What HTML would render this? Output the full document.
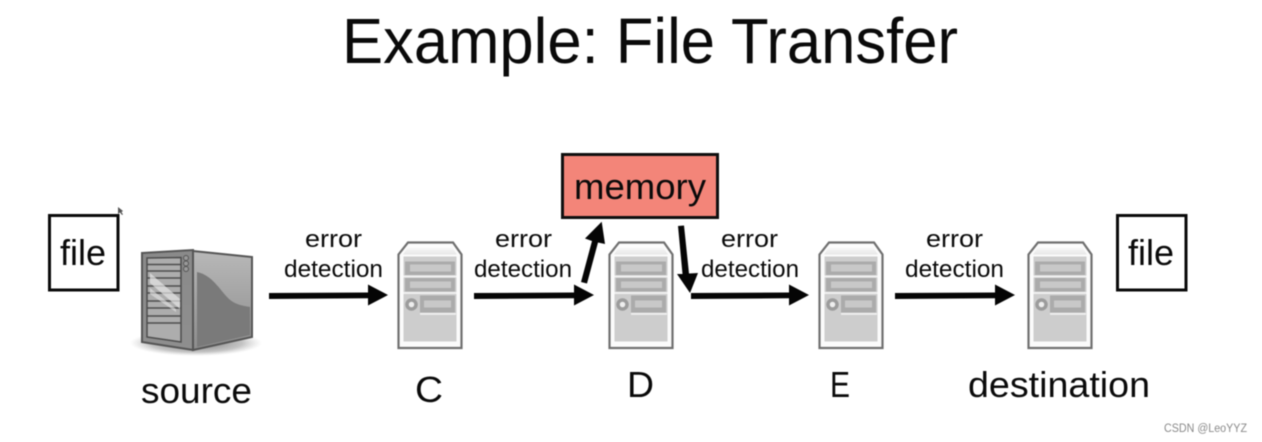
<!DOCTYPE html>
<html lang="en">
<head>
<meta charset="utf-8">
<title>Example: File Transfer</title>
<style>
html,body{margin:0;padding:0;background:#fff;overflow:hidden;}
svg{display:block;filter:blur(.4px);}
text{font-family:"Liberation Sans",sans-serif;fill:#0a0a0a;}
</style>
</head>
<body>
<svg width="1262" height="442" viewBox="0 0 1262 442" xmlns="http://www.w3.org/2000/svg">
<defs>
  <linearGradient id="side" x1="0" y1="0" x2="0" y2="1">
    <stop offset="0" stop-color="#b8b8b8"/><stop offset="1" stop-color="#8d8d8d"/>
  </linearGradient>
  <linearGradient id="front" x1="0" y1="0" x2="0" y2="1">
    <stop offset="0" stop-color="#8a8a8a"/><stop offset="1" stop-color="#8f8f8f"/>
  </linearGradient>
  <linearGradient id="top" x1="0" y1="0" x2="0" y2="1">
    <stop offset="0" stop-color="#fff"/><stop offset="1" stop-color="#e6e6e6"/>
  </linearGradient>
  <radialGradient id="shadow">
    <stop offset="0" stop-color="#555" stop-opacity=".85"/><stop offset=".7" stop-color="#888" stop-opacity=".5"/><stop offset="1" stop-color="#aaa" stop-opacity="0"/>
  </radialGradient>
  <g id="srv">
    <path d="M11 1H56L64.500 13V106.500H1.500V13Z" fill="#fbfbfb" stroke="#707070" stroke-width="2.200"/>
    <path d="M12 4H54L60 13H6Z" fill="url(#top)"/>
    <rect x="6.500" y="15" width="53" height="85" fill="#cdcdcd"/>
    <rect x="8" y="20" width="50" height="13.500" fill="#ababab"/>
    <rect x="13" y="23" width="41" height="7" fill="#c8c8c8"/>
    <rect x="6.500" y="34" width="53" height="2" fill="#f0f0f0"/>
    <rect x="8" y="36.500" width="50" height="13.500" fill="#ababab"/>
    <rect x="13" y="40" width="41" height="6.500" fill="#c8c8c8"/>
    <rect x="6.500" y="50.500" width="53" height="2" fill="#f0f0f0"/>
    <rect x="23" y="54" width="35" height="17" fill="#ababab"/>
    <rect x="27" y="59" width="27" height="7" fill="#c8c8c8"/>
    <rect x="23" y="71.500" width="36" height="1.800" fill="#f0f0f0"/>
    <circle cx="14.500" cy="63" r="4.500" fill="#eee" stroke="#9c9c9c" stroke-width="3.500"/>
  </g>
</defs>

<rect width="1262" height="442" fill="#fff"/>

<text x="342" y="63" font-size="64" textLength="616" lengthAdjust="spacingAndGlyphs">Example: File Transfer</text>

<!-- cursor -->
<path d="M118 207L118 214L120 212.500L122 215L123 214.500L121.500 212L123 211Z" fill="#555"/>

<!-- file boxes -->
<rect x="49.500" y="215.500" width="68.500" height="74.500" fill="#fff" stroke="#0a0a0a" stroke-width="3"/>
<text x="60" y="265" font-size="36" textLength="46" lengthAdjust="spacingAndGlyphs">file</text>
<rect x="1117.500" y="215.500" width="68.500" height="74.500" fill="#fff" stroke="#0a0a0a" stroke-width="3"/>
<text x="1128" y="265" font-size="36" textLength="46" lengthAdjust="spacingAndGlyphs">file</text>

<!-- source server -->
<ellipse cx="196" cy="343" rx="66" ry="13" fill="url(#shadow)"/>
<path d="M193 251L252 257V337L193 350Z" fill="url(#side)" stroke="#555" stroke-width="2"/>
<path d="M197 272C212 275 220 290 228 298C235 305 244 306 250 307V335L197 347Z" fill="#7a7a7a"/>
<path d="M142 253L193 250V350L142 342Z" fill="url(#front)" stroke="#555" stroke-width="2"/>
<path d="M147 258L181 257.500V342L147 337Z" fill="#adadad" stroke="#4d4d4d" stroke-width="1.500"/>
<g stroke="#4d4d4d" stroke-width="1.500" fill="none">
  <path d="M147 264.500H181M147 271H181M147 278H181M147 286H181M147 293H181M147 301H181M147 308H181M147 316H181M147 323H181"/>
</g>
<path d="M150 273L180 299V309L150 283Z" fill="#e6e6e6" opacity=".7"/>
<path d="M150 288L176 309V312L150 294Z" fill="#e6e6e6" opacity=".6"/>
<circle cx="186" cy="258" r="2.500" fill="#999" stroke="#555"/>
<circle cx="186" cy="263.500" r="2.500" fill="#999" stroke="#555"/>
<circle cx="186" cy="269" r="2.500" fill="#999" stroke="#555"/>

<!-- small servers -->
<use href="#srv" x="397" y="241.500"/>
<use href="#srv" x="608" y="241.500"/>
<use href="#srv" x="818" y="241.500"/>
<use href="#srv" x="1027" y="241.500"/>

<!-- memory -->
<rect x="562.500" y="154.500" width="155" height="63" fill="#f38579" stroke="#0f0f0f" stroke-width="3"/>
<text x="574" y="199" font-size="36" textLength="132" lengthAdjust="spacingAndGlyphs">memory</text>

<!-- arrows -->
<g fill="#050505">
  <path d="M269 293L368 292.500V284.500L388 295L368 305.500V298.300L269 299Z"/>
  <path d="M474 293L574 292.500V284.500L594 295L574 305.500V298.300L474 299Z"/>
  <path d="M691 293L789 292.500V284.500L809 295L789 305.500V298.300L691 299Z"/>
  <path d="M895 293L995 292.500V284.500L1015 295L995 305.500V298.300L895 299Z"/>
  <path d="M581 282L592 241L585 238.500L601.700 221.700L605 244L598 242.500L587 283.500Z"/>
  <path d="M678 226L684 225.500L689 273.500L698 273L690 293L677 274L682.500 274Z"/>
</g>

<!-- error detection labels -->
<g font-size="24">
  <text x="305" y="247" textLength="57" lengthAdjust="spacingAndGlyphs">error</text>
  <text x="284" y="277" textLength="99" lengthAdjust="spacingAndGlyphs">detection</text>
  <text x="495" y="247" textLength="57" lengthAdjust="spacingAndGlyphs">error</text>
  <text x="474" y="277" textLength="98" lengthAdjust="spacingAndGlyphs">detection</text>
  <text x="721" y="247" textLength="57" lengthAdjust="spacingAndGlyphs">error</text>
  <text x="701" y="277" textLength="98" lengthAdjust="spacingAndGlyphs">detection</text>
  <text x="926" y="247" textLength="57" lengthAdjust="spacingAndGlyphs">error</text>
  <text x="905" y="277" textLength="99" lengthAdjust="spacingAndGlyphs">detection</text>
</g>

<!-- node labels -->
<g font-size="36">
  <text x="141" y="403" textLength="111" lengthAdjust="spacingAndGlyphs">source</text>
  <text x="415" y="402" textLength="28" lengthAdjust="spacingAndGlyphs">C</text>
  <text x="627" y="397" textLength="27" lengthAdjust="spacingAndGlyphs">D</text>
  <text x="830" y="397" textLength="20" lengthAdjust="spacingAndGlyphs">E</text>
  <text x="968" y="397" textLength="182" lengthAdjust="spacingAndGlyphs">destination</text>
</g>

<text x="1164" y="432" font-size="11.500" textLength="83" lengthAdjust="spacingAndGlyphs" style="fill:#8a8a8a">CSDN @LeoYYZ</text>
</svg>
</body>
</html>
